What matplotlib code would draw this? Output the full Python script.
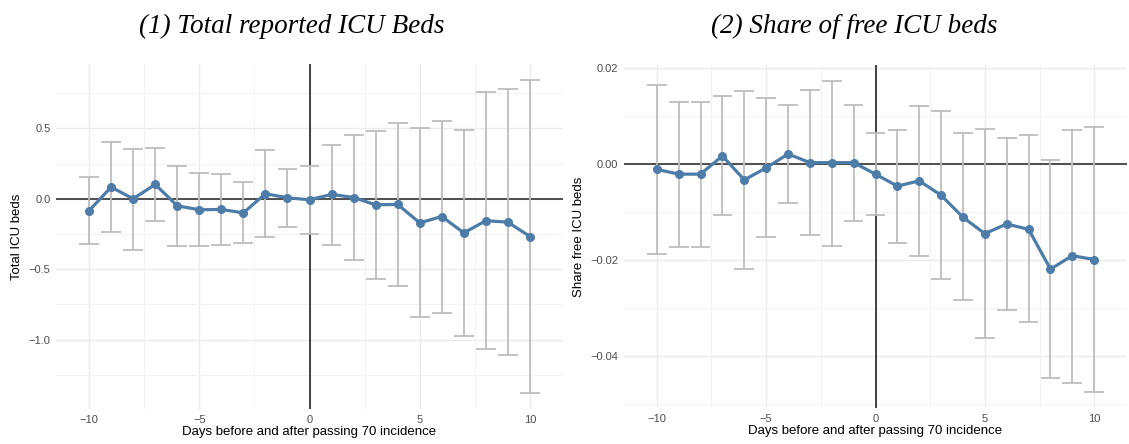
import numpy as np
import matplotlib.pyplot as plt
from matplotlib.ticker import MultipleLocator

# dias relativos al cruce de incidencia 70
dias = np.arange(-10, 11)

# (1) total de camas UCI
total_est = [-0.085, 0.083, 0.000, 0.102, -0.050, -0.078, -0.076, -0.100, 0.036, 0.007,
             -0.007, 0.031, 0.009, -0.043, -0.040, -0.171, -0.126, -0.242, -0.156, -0.166, -0.268]
total_hi = [0.156, 0.400, 0.355, 0.360, 0.235, 0.185, 0.178, 0.118, 0.344, 0.209,
            0.235, 0.384, 0.450, 0.483, 0.540, 0.500, 0.555, 0.490, 0.756, 0.777, 0.846]
total_lo = [-0.322, -0.235, -0.363, -0.156, -0.332, -0.339, -0.327, -0.315, -0.275, -0.199,
            -0.251, -0.327, -0.438, -0.571, -0.621, -0.841, -0.810, -0.976, -1.069, -1.111, -1.382]

# (2) proporcion de camas libres
share_est = [-0.0011, -0.0021, -0.0021, 0.0017, -0.0033, -0.0008, 0.0021, 0.0003, 0.0003, 0.0003,
             -0.0021, -0.0046, -0.0035, -0.0065, -0.0111, -0.0145, -0.0125, -0.0136, -0.0219, -0.0191, -0.0199]
share_hi = [0.0165, 0.0129, 0.0130, 0.0141, 0.0153, 0.0138, 0.0123, 0.0154, 0.0174, 0.0123,
            0.0064, 0.0072, 0.0120, 0.0110, 0.0064, 0.0073, 0.0054, 0.0060, 0.0008, 0.0071, 0.0078]
share_lo = [-0.0187, -0.0172, -0.0173, -0.0107, -0.0219, -0.0152, -0.0082, -0.0148, -0.0170, -0.0118,
            -0.0106, -0.0164, -0.0192, -0.0240, -0.0284, -0.0363, -0.0304, -0.0330, -0.0446, -0.0456, -0.0476]

azul = '#4e7ca8'
gris = '#bdbdbd'
fs_tick = 8
fs_lab = 9.5


def panel(ax, est, lo, hi, ylabel, ymaj, ymin, fmt):
    est = np.array(est); lo = np.array(lo); hi = np.array(hi)
    # barras de error estilo ggplot (ancho 0.9)
    ax.vlines(dias, lo, hi, color=gris, lw=1.3, zorder=2)
    ax.hlines(lo, dias - 0.45, dias + 0.45, color=gris, lw=1.3, zorder=2)
    ax.hlines(hi, dias - 0.45, dias + 0.45, color=gris, lw=1.3, zorder=2)
    ax.axhline(0, color='#222222', lw=1.1, zorder=1)
    ax.axvline(0, color='#111111', lw=1.1, zorder=1)
    ax.plot(dias, est, color=azul, lw=2.3, marker='o', ms=5.5, zorder=3)

    # limites con expansion del 5%
    rng = hi.max() - lo.min()
    ax.set_ylim(lo.min() - 0.05 * rng, hi.max() + 0.05 * rng)
    ax.set_xlim(-11.5, 11.5)

    ax.xaxis.set_major_locator(MultipleLocator(5))
    ax.xaxis.set_minor_locator(MultipleLocator(2.5))
    ax.yaxis.set_major_locator(MultipleLocator(ymaj))
    ax.yaxis.set_minor_locator(MultipleLocator(ymin))
    ax.yaxis.set_major_formatter(fmt)
    ax.xaxis.set_major_formatter(lambda v, p: f"{v:.0f}".replace('-', '\u2212'))

    ax.grid(which='major', color='#ebebeb', lw=1.0, zorder=0)
    ax.grid(which='minor', color='#f3f3f3', lw=0.7, zorder=0)
    ax.set_axisbelow(True)
    for s in ax.spines.values():
        s.set_visible(False)
    ax.tick_params(which='both', length=0, labelsize=fs_tick, labelcolor='#4d4d4d', pad=4)
    ax.set_xlabel('Days before and after passing 70 incidence', fontsize=fs_lab, labelpad=1)
    ax.set_ylabel(ylabel, fontsize=fs_lab, labelpad=4)


plt.rcParams['font.family'] = ['Liberation Sans', 'DejaVu Sans']
fig = plt.figure(figsize=(11.29, 4.44), dpi=100)

ax1 = fig.add_axes([56 / 1129, 35 / 444, 507 / 1129, 345 / 444])
ax2 = fig.add_axes([624 / 1129, 36 / 444, 503 / 1129, 343 / 444])

panel(ax1, total_est, total_lo, total_hi, 'Total ICU beds', 0.5, 0.25,
      lambda v, p: f"{v:.1f}".replace('-', '\u2212'))
panel(ax2, share_est, share_lo, share_hi, 'Share free ICU beds', 0.02, 0.01,
      lambda v, p: f"{v:.2f}".replace('-', '\u2212'))

fig.text(292 / 1129, 1 - 26 / 444, '(1) Total reported ICU Beds', ha='center', va='center',
         family='Liberation Serif', style='italic', fontsize=19.5)
fig.text(854 / 1129, 1 - 26 / 444, '(2) Share of free ICU beds', ha='center', va='center',
         family='Liberation Serif', style='italic', fontsize=19.5)

fig.savefig('out.png', dpi=100)
